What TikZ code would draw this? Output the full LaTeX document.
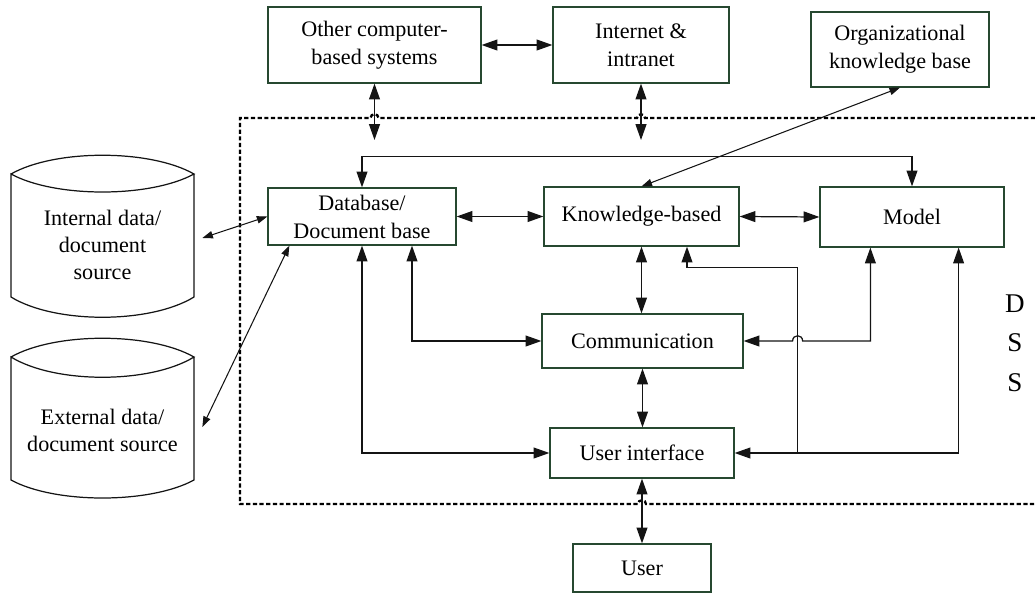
\documentclass[tikz,border=0pt]{standalone}
\usepackage{fontspec}
\setmainfont{Liberation Serif}
\usetikzlibrary{arrows.meta,calc}
\definecolor{boxline}{RGB}{38,72,48}
\definecolor{wire}{RGB}{20,20,20}
\tikzset{
  px/.style={x=0.02cm,y=-0.02cm},
  box/.style={draw=boxline, line width=0.7pt, align=center, inner sep=0pt,
    font=\fontsize{12.6pt}{15.9pt}\selectfont},
  drum/.style={align=center, inner sep=0pt, minimum width=199*0.02cm,
    font=\fontsize{12.6pt}{15.4pt}\selectfont},
  bigtip/.tip={Triangle[length=9pt,width=6.2pt]},
  smalltip/.tip={Triangle[length=6pt,width=4.2pt]},
  link/.style={draw=wire, line width=0.7pt, bigtip-bigtip},
  linkto/.style={draw=wire, line width=0.7pt, -bigtip},
  thinlink/.style={draw=wire, line width=0.6pt, smalltip-smalltip},
  cylinder line/.style={draw=wire, line width=0.7pt},
  dssframe/.style={draw=black, line width=1.3pt, dash pattern=on 2.4pt off 1.4pt}
}
\begin{document}
\begin{tikzpicture}[px]
\useasboundingbox (0,0) rectangle (1035,595);

% --- boxes outside the DSS
\node[box, minimum width=213*0.02cm, minimum height=76*0.02cm] (ocs) at (374.5,45) {Other computer-\\based systems};
\node[box, minimum width=176*0.02cm, minimum height=76*0.02cm] (inet) at (641,45) {Internet \&\\intranet};
\node[box, minimum width=178*0.02cm, minimum height=75*0.02cm] (org) at (900,49.5) {Organizational\\knowledge base};
\node[box, minimum width=138*0.02cm, minimum height=48*0.02cm] (user) at (642,568) {User};

% --- DSS components
\node[box, minimum width=188*0.02cm, minimum height=57*0.02cm] (db) at (362,216.5) {Database/\\Document base};
\node[box, minimum width=195*0.02cm, minimum height=59*0.02cm] (kb) at (641.5,216.5) {Knowledge-based};
\node[box, minimum width=184*0.02cm, minimum height=60*0.02cm] (model) at (912,217) {Model};
\node[box, minimum width=201*0.02cm, minimum height=54*0.02cm] (comm) at (642.5,341) {Communication};
\node[box, minimum width=184*0.02cm, minimum height=50*0.02cm] (ui) at (642,453) {User interface};

% --- DSS frame (open on the right), with small hops at the crossings
\draw[dssframe] (1035,118) -- (645,118) .. controls +(0,-5) and +(0,-5) .. (637,118)
  -- (378.5,118) .. controls +(0,-5) and +(0,-5) .. (370.5,118)
  -- (240,118) -- (240,504) -- (638,504) .. controls +(0,-5) and +(0,-5) .. (646,504)
  -- (1035,504);
\node[font=\fontsize{15.4pt}{22.4pt}\selectfont, align=center, inner sep=0pt] (dss) at (1015,343) {D\\S\\S};

% --- data sources (drums)
\draw[cylinder line] (11,174) .. controls (55,149) and (150,149) .. (194,174)
  .. controls (150,198) and (55,198) .. (11,174) -- (11,297)
  .. controls (55,324) and (150,324) .. (194,297) -- (194,174);
\node[drum] (ints) at (102.5,245) {Internal data/\\document\\source};
\draw[cylinder line] (11,357) .. controls (55,332) and (150,332) .. (194,357)
  .. controls (150,384) and (55,384) .. (11,357) -- (11,480)
  .. controls (55,504) and (150,504) .. (194,480) -- (194,357);
\node[drum] (exts) at (102.5,430) {External data/\\document source};

% --- connectors
\draw[link] (ocs.east) -- (inet.west);
\coordinate (ocsIn) at (374.5,140);
\coordinate (inetIn) at (641,140);
\draw[link] (ocs.south) -- (ocsIn);
\draw[link] (inet.south) -- (inetIn);
\draw[thinlink] (kb.north) -- (org.south);

\draw[link] (db.north) -- ++(0,-31) -| (model.north);
\draw[link] (db.east) -- (kb.west);
\draw[link] (kb.east) -- (model.west);
\draw[link] (kb.south) -- (kb.south |- comm.north);
\draw[link] (comm.south) -- (comm.south |- ui.north);
\draw[link] (ui.south) -- (ui.south |- user.north);

\draw[link] ($(db.south)+(50,0)$) |- (comm.west);
\draw[link] (db.south) |- (ui.west);

\coordinate (j) at ($(ui.east)+(63,0)$);
\draw[link] (ui.east) -| ($(model.south east)+(-46,0)$);
\draw[linkto] (j) |- ($(kb.south)+(45.5,21)$) -- ($(kb.south)+(45.5,0)$);
\draw[link] (comm.east) -- ($(j |- comm.east)+(-5,0)$)
  .. controls +(0,-7) and +(0,-7) .. ($(j |- comm.east)+(5,0)$)
  -| ($(model.south west)+(51,0)$);

\draw[thinlink] ([yshift=0.14cm]ints.east) -- (db.west);
\draw[thinlink] ([yshift=0.06cm]exts.east) -- ($(db.south west)+(22,0)$);
\end{tikzpicture}
\end{document}
